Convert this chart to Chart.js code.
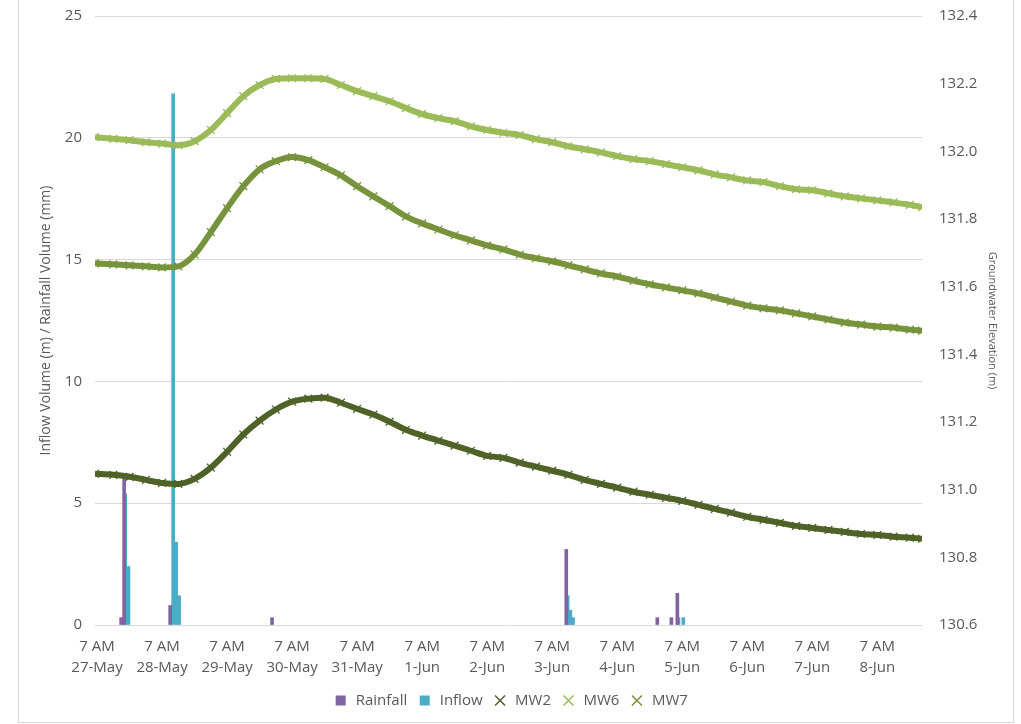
<!DOCTYPE html>
<html>
<head>
<meta charset="utf-8">
<script src="https://cdn.jsdelivr.net/npm/chart.js@4.4.1/dist/chart.umd.min.js"></script>
<style>
    html, body { margin: 0; padding: 0; background: #fff; }
    #wrap { position: relative; width: 1021px; height: 724px; }
    #frame { position: absolute; left: 18px; top: -1px; width: 994px; height: 722px; border: 1px solid #d9d9d9; pointer-events: none; }
</style>
</head>
<body>
<div id="wrap">
    <canvas id="chart" width="1021" height="724"></canvas>
    <div id="frame"></div>
</div>
<script>
// x ticks: 7 AM each day (hours since 27-May 7 AM)
const tickHours = [0, 24, 48, 72, 96, 120, 144, 168, 192, 216, 240, 264, 288];
const tickTimes = ["7 AM", "7 AM", "7 AM", "7 AM", "7 AM", "7 AM", "7 AM", "7 AM", "7 AM", "7 AM", "7 AM", "7 AM", "7 AM"];
const tickDates = ["27-May", "28-May", "29-May", "30-May", "31-May", "1-Jun", "2-Jun", "3-Jun", "4-Jun", "5-Jun", "6-Jun", "7-Jun", "8-Jun"];

// rainfall (mm) and inflow events
const rainHours = [8.9, 10.0, 27.0, 64.6, 173.2, 206.8, 212.0, 214.2];
const rainValues = [0.3, 6.0, 0.8, 0.3, 3.1, 0.3, 0.3, 1.3];
const inflowHours = [10.4, 11.6, 28.1, 29.2, 30.3, 173.7, 174.7, 175.7, 214.6, 216.4];
const inflowValues = [5.4, 2.4, 21.8, 3.4, 1.2, 1.2, 0.6, 0.3, 0.3, 0.3];

// groundwater readings (hours since 27-May 7 AM)
const gwHours = [-0.75, 6, 12, 18, 24, 30, 36, 42, 48, 54, 60, 66, 72, 78, 84, 90, 96, 102, 108, 114,
    120, 126, 132, 138, 144, 150, 156, 162, 168, 174, 180, 186, 192, 198, 204, 210, 216, 222, 228, 234,
    240, 246, 252, 258, 264, 270, 276, 282, 288, 294, 300, 304.5];
const mw2 = [131.047, 131.044, 131.038, 131.029, 131.020, 131.017, 131.032, 131.065, 131.112, 131.163,
    131.204, 131.237, 131.260, 131.269, 131.272, 131.257, 131.239, 131.222, 131.201, 131.177,
    131.160, 131.145, 131.130, 131.115, 131.100, 131.094, 131.080, 131.068, 131.056, 131.044,
    131.029, 131.017, 131.006, 130.994, 130.985, 130.976, 130.967, 130.955, 130.943, 130.932,
    130.920, 130.911, 130.902, 130.893, 130.887, 130.881, 130.875, 130.869, 130.866, 130.861,
    130.858, 130.855];
const mw6 = [132.042, 132.037, 132.033, 132.027, 132.023, 132.018, 132.030, 132.063, 132.113, 132.163,
    132.196, 132.214, 132.216, 132.216, 132.214, 132.196, 132.178, 132.163, 132.148, 132.128,
    132.110, 132.098, 132.089, 132.074, 132.063, 132.055, 132.048, 132.036, 132.027, 132.015,
    132.006, 131.997, 131.986, 131.977, 131.971, 131.962, 131.953, 131.944, 131.932, 131.923,
    131.914, 131.909, 131.897, 131.888, 131.885, 131.876, 131.867, 131.861, 131.855, 131.849,
    131.842, 131.835];
const mw7 = [131.669, 131.666, 131.663, 131.660, 131.657, 131.660, 131.695, 131.761, 131.832, 131.897,
    131.947, 131.971, 131.983, 131.974, 131.953, 131.929, 131.897, 131.867, 131.838, 131.808,
    131.787, 131.769, 131.752, 131.737, 131.722, 131.710, 131.695, 131.684, 131.675, 131.663,
    131.651, 131.639, 131.630, 131.618, 131.607, 131.598, 131.589, 131.580, 131.568, 131.556,
    131.544, 131.536, 131.530, 131.521, 131.512, 131.503, 131.494, 131.488, 131.482, 131.479,
    131.473, 131.470];

const toPoints = (xs, ys) => xs.map((x, i) => ({ x: x, y: ys[i] }));
const textColor = "#595959";
const font = "'Open Sans', 'Noto Sans', sans-serif";

function gwDataset(label, values, color) {
    return {
        type: "line",
        label: label,
        data: toPoints(gwHours, values),
        yAxisID: "y1",
        borderColor: color,
        backgroundColor: color,
        borderWidth: 6,
        pointStyle: "crossRot",
        pointRadius: 5.5,
        pointBorderWidth: 1.3,
        pointBorderColor: color,
        tension: 0.4,
        cubicInterpolationMode: "monotone",
        fill: false,
        order: 1
    };
}

const ctx = document.getElementById("chart").getContext("2d");
new Chart(ctx, {
    type: "line",
    data: {
        datasets: [
            {
                type: "bar",
                label: "Rainfall",
                data: toPoints(rainHours, rainValues),
                yAxisID: "y",
                backgroundColor: "#8064A2",
                barThickness: 3,
                grouped: false,
                order: 2
            },
            {
                type: "bar",
                label: "Inflow",
                data: toPoints(inflowHours, inflowValues),
                yAxisID: "y",
                backgroundColor: "#4BACC6",
                barThickness: 3,
                grouped: false,
                order: 3
            },
            gwDataset("MW2", mw2, "#4F6228"),
            gwDataset("MW6", mw6, "#9BBB59"),
            gwDataset("MW7", mw7, "#77933C")
        ]
    },
    options: {
        responsive: false,
        animation: false,
        layout: { padding: { top: 16, bottom: 6, left: 0, right: 0 } },
        plugins: {
            tooltip: { enabled: false },
            legend: {
                position: "bottom",
                labels: {
                    color: textColor,
                    font: { family: font, size: 15 },
                    usePointStyle: true,
                    boxHeight: 10,
                    padding: 10,
                    sort: (a, b) => a.datasetIndex - b.datasetIndex,
                    generateLabels: (chart) => {
                        const items = Chart.defaults.plugins.legend.labels.generateLabels(chart);
                        return items.map(item => {
                            const ds = chart.data.datasets[item.datasetIndex];
                            if (ds.type === "bar") {
                                item.pointStyle = "rect";
                                item.lineWidth = 0;
                                item.strokeStyle = ds.backgroundColor;
                            } else {
                                item.pointStyle = "crossRot";
                                item.lineWidth = 1.5;
                                item.strokeStyle = ds.borderColor;
                            }
                            return item;
                        });
                    }
                }
            }
        },
        scales: {
            x: {
                type: "linear",
                min: -0.75,
                max: 304.5,
                offset: false,
                grid: { display: false, drawTicks: false },
                border: { display: false },
                afterBuildTicks: (scale) => {
                    scale.ticks = tickHours.map(h => ({ value: h }));
                },
                afterFit: (scale) => { scale.height = 58; },
                ticks: {
                    color: textColor,
                    font: { family: font, size: 15, lineHeight: 1.4 },
                    padding: 11,
                    autoSkip: false,
                    maxRotation: 0,
                    callback: (value) => {
                        const i = tickHours.indexOf(value);
                        return i < 0 ? "" : [tickTimes[i], tickDates[i]];
                    }
                }
            },
            y: {
                position: "left",
                min: 0,
                max: 25,
                grid: { color: "#d9d9d9", drawTicks: true, tickLength: 13, tickColor: "rgba(0,0,0,0)" },
                border: { display: false },
                afterFit: (scale) => { scale.width = 95; },
                ticks: {
                    stepSize: 5,
                    color: textColor,
                    font: { family: font, size: 15 },
                    padding: 0
                },
                title: {
                    display: true,
                    text: "Inflow Volume (m) / Rainfall Volume (mm)",
                    color: textColor,
                    font: { family: font, size: 14 },
                    padding: { top: 38, bottom: 4 }
                }
            },
            y1: {
                position: "right",
                min: 130.6,
                max: 132.4,
                grid: { display: true, drawOnChartArea: false, drawTicks: true, tickLength: 17, tickColor: "rgba(0,0,0,0)" },
                border: { display: false },
                afterFit: (scale) => { scale.width = 99; },
                ticks: {
                    stepSize: 0.2,
                    color: textColor,
                    font: { family: font, size: 15 },
                    padding: 0,
                    callback: (value) => value.toFixed(1)
                },
                title: {
                    display: true,
                    text: "Groundwater Elevation (m)",
                    color: textColor,
                    font: { family: font, size: 11 },
                    padding: { top: 22, bottom: 0 }
                }
            }
        }
    }
});
</script>
</body>
</html>
